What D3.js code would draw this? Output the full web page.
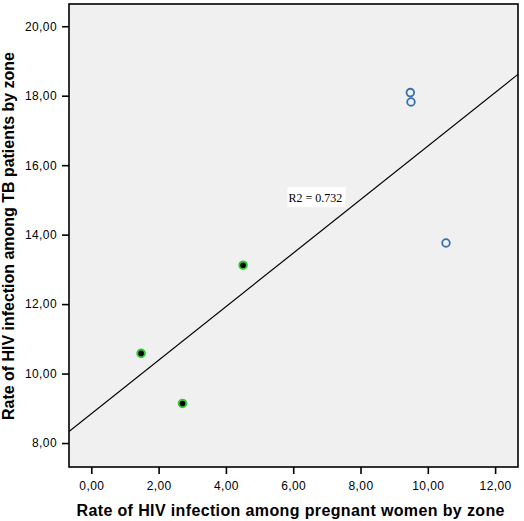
<!DOCTYPE html>
<html>
<head>
  <meta charset="utf-8">
  <script src="https://cdnjs.cloudflare.com/ajax/libs/d3/7.8.5/d3.min.js"></script>
  <title>scatter</title>
  <style>
    body { margin: 0; background: #fff; }
  </style>
</head>
<body>
<script>
// pregnant women rate (x) vs TB patients rate (y)
var grupoA_x = [1.48, 2.71, 4.51];
var grupoA_y = [10.58, 9.14, 13.12];
var grupoB_x = [9.48, 9.50, 10.54];
var grupoB_y = [18.09, 17.82, 13.76];
var ticksX = [0, 2, 4, 6, 8, 10, 12];
var ticksY = [8, 10, 12, 14, 16, 18, 20];
var r2texto = "R2 = 0.732";

var W = 524, H = 521;
var m = {left: 69, right: 6, top: 4, bottom: 54};

var x = d3.scaleLinear().domain([-0.663, 12.68]).range([m.left, W - m.right]);
var y = d3.scaleLinear().domain([7.31, 20.64]).range([H - m.bottom, m.top]);

var svg = d3.select("body").append("svg")
  .attr("width", W).attr("height", H);

svg.append("rect")
  .attr("x", m.left).attr("y", m.top)
  .attr("width", W - m.left - m.right)
  .attr("height", H - m.top - m.bottom)
  .attr("fill", "#f0f0f0");

var fmt = function(d) { return d3.format(".2f")(d).replace(".", ","); };

var ejeX = svg.append("g")
  .attr("transform", "translate(0," + (H - m.bottom) + ")")
  .call(d3.axisBottom(x).tickValues(ticksX).tickFormat(fmt).tickSize(7).tickSizeOuter(0));
var ejeY = svg.append("g")
  .attr("transform", "translate(" + m.left + ",0)")
  .call(d3.axisLeft(y).tickValues(ticksY).tickFormat(fmt).tickSize(7).tickSizeOuter(0));

[ejeX, ejeY].forEach(function(g) {
  g.select(".domain").remove();
  g.selectAll("line").attr("stroke", "#000").attr("stroke-width", 1.6);
  g.selectAll("text").attr("font-family", "Arial, 'Liberation Sans'")
    .attr("font-size", 12).attr("letter-spacing", 0.4).attr("fill", "#000");
});
ejeX.selectAll("text").attr("dy", "0").attr("y", 23);
ejeY.selectAll("text").attr("x", -12);

// frame
svg.append("rect")
  .attr("x", m.left).attr("y", m.top)
  .attr("width", W - m.left - m.right)
  .attr("height", H - m.top - m.bottom)
  .attr("fill", "none").attr("stroke", "#000").attr("stroke-width", 1.6);

// linear fit over all points
var todosX = grupoA_x.concat(grupoB_x), todosY = grupoA_y.concat(grupoB_y);
var mx = d3.mean(todosX), my = d3.mean(todosY);
var sxy = d3.sum(todosX, function(v, i) { return (v - mx) * (todosY[i] - my); });
var sxx = d3.sum(todosX, function(v) { return (v - mx) * (v - mx); });
var b = sxy / sxx, a = my - b * mx;
var x0 = x.domain()[0], x1 = x.domain()[1];

svg.append("clipPath").attr("id", "c").append("rect")
  .attr("x", m.left).attr("y", m.top)
  .attr("width", W - m.left - m.right).attr("height", H - m.top - m.bottom);

svg.append("line")
  .attr("clip-path", "url(#c)")
  .attr("x1", x(x0)).attr("y1", y(a + b * x0))
  .attr("x2", x(x1)).attr("y2", y(a + b * x1))
  .attr("stroke", "#000").attr("stroke-width", 1.2);

// R2 label
var lab = svg.append("g").attr("transform", "translate(" + x(5.83) + "," + y(15.05) + ")");
lab.append("rect").attr("x", 0).attr("y", -11).attr("width", 58).attr("height", 20).attr("fill", "#fff");
lab.append("text").attr("x", 1).attr("y", 4)
  .attr("font-family", "'Liberation Serif', 'Times New Roman', serif")
  .attr("font-size", 12).attr("fill", "#000").text(r2texto);

svg.selectAll("circle.a").data(grupoA_x).enter().append("circle")
  .attr("class", "a")
  .attr("cx", function(d) { return x(d); })
  .attr("cy", function(d, i) { return y(grupoA_y[i]); })
  .attr("r", 3.8)
  .attr("fill", "#000").attr("stroke", "#33cc33").attr("stroke-width", 2);

svg.selectAll("circle.b").data(grupoB_x).enter().append("circle")
  .attr("class", "b")
  .attr("cx", function(d) { return x(d); })
  .attr("cy", function(d, i) { return y(grupoB_y[i]); })
  .attr("r", 3.8)
  .attr("fill", "none").attr("stroke", "#3b6eab").attr("stroke-width", 1.8);

// titles
svg.append("text")
  .attr("x", 76.5).attr("y", 516)
  .attr("font-family", "Arial, 'Liberation Sans'").attr("font-weight", "bold")
  .attr("font-size", 16).attr("textLength", 428).attr("lengthAdjust", "spacing")
  .text("Rate of HIV infection among pregnant women by zone");

svg.append("text")
  .attr("transform", "translate(14,420) rotate(-90)")
  .attr("font-family", "Arial, 'Liberation Sans'").attr("font-weight", "bold")
  .attr("font-size", 16).attr("textLength", 368).attr("lengthAdjust", "spacing")
  .text("Rate of HIV infection among TB patients by zone");
</script>
</body>
</html>
